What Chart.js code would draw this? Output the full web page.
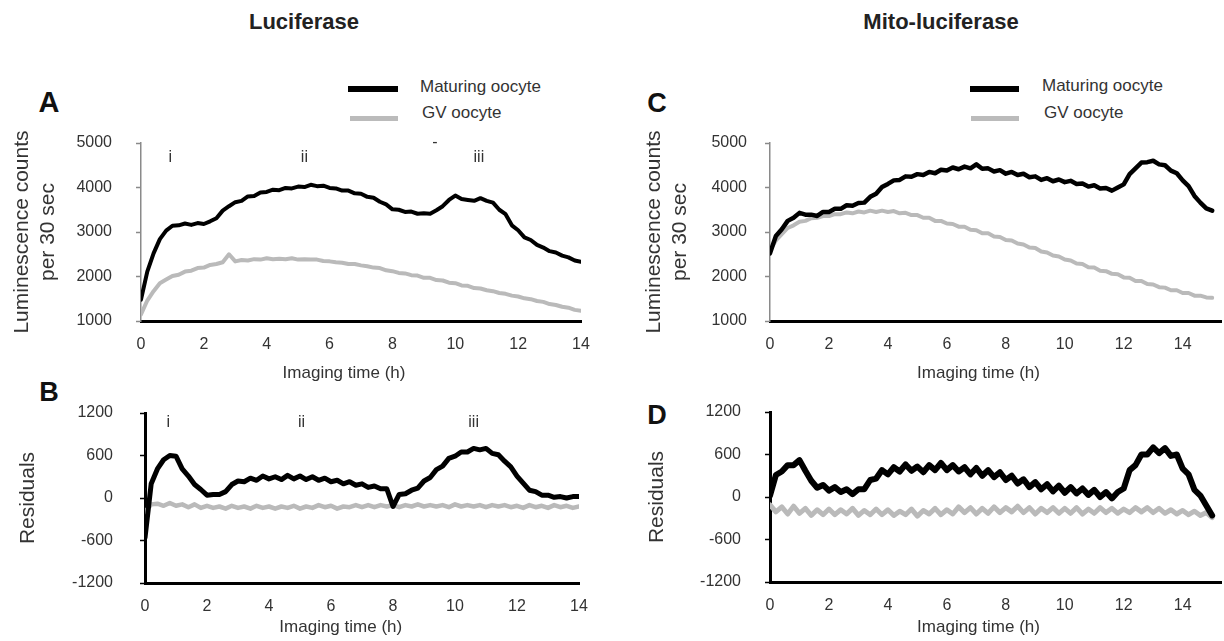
<!DOCTYPE html>
<html>
<head>
<meta charset="utf-8">
<script src="https://cdn.jsdelivr.net/npm/chart.js@4.4.1/dist/chart.umd.min.js"></script>
<style>
  body { margin: 0; width: 1224px; height: 641px; background: #fff; position: relative; overflow: hidden;
         font-family: "Liberation Sans", Arial, sans-serif; color: #2a2a2a; }
  .box { position: absolute; }
  .c { position: absolute; transform: translate(-50%, -50%); white-space: nowrap; }
  .l { position: absolute; transform: translateY(-50%); white-space: nowrap; font-size: 17px; color: #333; }
  .sw { position: absolute; }
  .head { font-weight: bold; font-size: 22px; color: #222; }
  .letter { font-weight: bold; font-size: 27px; color: #111; }
</style>
</head>
<body>

<div class="c head" style="left:304px;top:22px">Luciferase</div>
<div class="c head" style="left:941px;top:22px">Mito-luciferase</div>

<div class="c letter" style="left:49px;top:102px;font-size:29px">A</div>
<div class="c letter" style="left:49px;top:392px">B</div>
<div class="c letter" style="left:657px;top:103px">C</div>
<div class="c letter" style="left:657px;top:415px">D</div>

<!-- legends -->
<div class="sw" style="left:348px;top:86px;width:50px;height:6px;background:#000"></div>
<div class="sw" style="left:350px;top:116px;width:48px;height:5px;background:#bbb"></div>
<div class="l" style="left:420px;top:87px">Maturing oocyte</div>
<div class="l" style="left:422px;top:113px">GV oocyte</div>

<div class="sw" style="left:970px;top:86px;width:49px;height:6px;background:#000"></div>
<div class="sw" style="left:971px;top:116px;width:48px;height:5px;background:#bbb"></div>
<div class="l" style="left:1042px;top:86px">Maturing oocyte</div>
<div class="l" style="left:1044px;top:113px">GV oocyte</div>

<div class="box" style="left:0;top:100px;width:612px;height:290px"><canvas id="chartA"></canvas></div>
<div class="box" style="left:0;top:390px;width:612px;height:251px"><canvas id="chartB"></canvas></div>
<div class="box" style="left:612px;top:100px;width:612px;height:290px"><canvas id="chartC"></canvas></div>
<div class="box" style="left:612px;top:390px;width:612px;height:251px"><canvas id="chartD"></canvas></div>

<script>
// imaging time (h), sampled every 0.2 h
var timesA = [0,0.2,0.4,0.6,0.8,1,1.2,1.4,1.6,1.8,2,2.2,2.4,2.6,2.8,3,3.2,3.4,3.6,3.8,
  4,4.2,4.4,4.6,4.8,5,5.2,5.4,5.6,5.8,6,6.2,6.4,6.6,6.8,7,7.2,7.4,7.6,7.8,
  8,8.2,8.4,8.6,8.8,9,9.2,9.4,9.6,9.8,10,10.2,10.4,10.6,10.8,11,11.2,11.4,11.6,11.8,
  12,12.2,12.4,12.6,12.8,13,13.2,13.4,13.6,13.8,14];
var timesC = [0,0.2,0.4,0.6,0.8,1,1.2,1.4,1.6,1.8,2,2.2,2.4,2.6,2.8,3,3.2,3.4,3.6,3.8,
  4,4.2,4.4,4.6,4.8,5,5.2,5.4,5.6,5.8,6,6.2,6.4,6.6,6.8,7,7.2,7.4,7.6,7.8,
  8,8.2,8.4,8.6,8.8,9,9.2,9.4,9.6,9.8,10,10.2,10.4,10.6,10.8,11,11.2,11.4,11.6,11.8,
  12,12.2,12.4,12.6,12.8,13,13.2,13.4,13.6,13.8,14,14.2,14.4,14.6,14.8,15];

// A - luciferase counts per 30 sec
var maturingA = [1480,2110,2520,2840,3030,3140,3150,3190,3160,3200,
  3180,3240,3310,3480,3580,3670,3700,3800,3810,3890,
  3900,3950,3940,3990,3980,4020,4010,4060,4030,4040,
  3990,3980,3930,3930,3870,3860,3790,3770,3680,3620,
  3510,3500,3450,3460,3410,3420,3410,3490,3580,3720,
  3820,3740,3720,3700,3760,3700,3660,3500,3400,3150,
  3040,2880,2820,2710,2650,2570,2540,2470,2430,2360,2330];
var gvA = [1150,1460,1670,1850,1930,2010,2040,2110,2130,2190,
  2200,2260,2280,2320,2500,2340,2370,2360,2390,2380,
  2410,2390,2400,2390,2410,2380,2390,2380,2380,2350,
  2340,2320,2310,2280,2280,2250,2230,2200,2190,2140,
  2120,2080,2070,2030,2020,1970,1970,1920,1910,1860,
  1850,1800,1790,1740,1730,1690,1670,1630,1610,1570,
  1550,1510,1490,1450,1430,1380,1360,1320,1300,1250,1230];

// B - luciferase residuals
var maturingB = [-560,200,410,540,600,590,410,310,190,120,
  40,50,50,90,190,240,230,280,250,310,
  270,300,260,320,270,310,260,300,250,280,
  230,250,200,230,180,200,150,170,130,130,
  -120,50,60,110,140,240,290,400,450,560,
  590,650,650,700,680,700,630,610,520,440,
  310,210,110,90,40,40,10,20,0,20,20];
var gvB = [-200,-90,-80,-110,-70,-110,-90,-130,-90,-140,
  -110,-140,-120,-150,-110,-140,-120,-150,-110,-140,
  -120,-150,-120,-140,-110,-150,-120,-140,-100,-130,
  -110,-150,-120,-130,-100,-130,-100,-130,-100,-120,
  -100,-130,-100,-120,-90,-120,-100,-120,-100,-130,
  -90,-120,-100,-120,-100,-130,-100,-120,-100,-130,
  -110,-140,-100,-130,-110,-140,-100,-130,-110,-140,-120];

// C - mito-luciferase counts per 30 sec
var maturingC = [2520,2910,3060,3250,3320,3430,3390,3390,3360,3450,
  3450,3520,3520,3600,3590,3650,3660,3790,3860,4010,
  4080,4160,4170,4250,4240,4300,4280,4350,4320,4400,
  4380,4450,4410,4470,4430,4520,4420,4430,4360,4390,
  4310,4350,4280,4310,4230,4250,4170,4210,4140,4180,
  4120,4150,4080,4090,4020,4050,3980,3990,3930,4000,
  4070,4300,4430,4560,4570,4600,4520,4500,4380,4320,
  4160,4030,3810,3660,3530,3480];
var gvC = [2590,2810,2950,3090,3150,3230,3250,3310,3320,3360,
  3360,3400,3400,3440,3420,3460,3440,3480,3450,3480,
  3450,3470,3420,3430,3380,3380,3320,3320,3250,3250,
  3190,3180,3120,3120,3050,3040,2970,2970,2900,2890,
  2820,2810,2740,2720,2650,2640,2560,2540,2470,2450,
  2380,2360,2290,2280,2210,2200,2130,2120,2060,2050,
  1980,1970,1900,1900,1830,1820,1760,1750,1690,1690,
  1630,1630,1570,1570,1530,1520];

// D - mito-luciferase residuals
var maturingD = [20,310,360,450,450,520,370,230,130,170,
  90,140,70,110,40,110,110,240,260,380,
  320,420,360,460,370,430,350,450,380,480,
  380,450,360,420,320,410,300,380,280,350,
  240,300,190,250,140,210,110,180,80,160,
  60,140,50,120,30,100,0,70,-20,70,
  120,380,450,600,600,700,620,690,580,600,
  400,320,100,20,-120,-260];
var gvD = [-110,-210,-140,-240,-130,-230,-160,-260,-180,-250,
  -170,-250,-180,-240,-160,-260,-190,-250,-170,-250,
  -180,-260,-200,-250,-170,-270,-190,-240,-160,-250,
  -180,-240,-140,-220,-150,-240,-160,-230,-140,-220,
  -150,-210,-130,-220,-150,-240,-160,-220,-150,-230,
  -160,-230,-150,-240,-170,-230,-150,-220,-160,-230,
  -170,-220,-150,-210,-150,-220,-160,-230,-180,-240,
  -190,-250,-200,-260,-220,-290];

// phase marks i / ii / iii
var marksA = ['i', 'ii', 'iii', '-'];
var markTimesA = [0.93, 5.2, 10.75, 9.35];
var markLevelsA = [4680, 4680, 4680, 5020];
var marksB = ['i', 'ii', 'iii'];
var markTimesB = [0.75, 5.05, 10.6];
var markLevelsB = [1070, 1070, 1070];

var seriesNames = ['Maturing oocyte', 'GV oocyte'];

Chart.defaults.font.family = '"Liberation Sans", Arial, sans-serif';
Chart.defaults.color = '#333';

var marksPlugin = {
  id: 'marks',
  afterDatasetsDraw: function (chart, args, opts) {
    if (!opts.texts) return;
    var ctx = chart.ctx, x = chart.scales.x, y = chart.scales.y;
    ctx.save();
    ctx.font = '16px "Liberation Sans", Arial, sans-serif';
    ctx.fillStyle = '#333';
    ctx.textAlign = 'center';
    ctx.textBaseline = 'middle';
    for (var i = 0; i < opts.texts.length; i++) {
      ctx.fillText(opts.texts[i], x.getPixelForValue(opts.times[i]), y.getPixelForValue(opts.levels[i]));
    }
    ctx.restore();
  }
};

function plain(v) { return String(v); }

function panel(id, p) {
  return new Chart(document.getElementById(id), {
    type: 'line',
    data: {
      labels: p.times,
      datasets: [{
        label: seriesNames[0],
        data: p.mat,
        borderColor: '#000',
        borderWidth: p.matWidth
      }, {
        label: seriesNames[1],
        data: p.gv,
        borderColor: '#bababa',
        borderWidth: p.gvWidth
      }]
    },
    options: {
      animation: false,
      responsive: true,
      maintainAspectRatio: false,
      events: [],
      layout: { padding: { left: 0, top: p.top, right: p.right, bottom: 0 } },
      elements: { point: { radius: 0 }, line: { tension: 0, borderJoinStyle: 'round', borderCapStyle: 'round' } },
      plugins: {
        legend: { display: false },
        tooltip: { enabled: false },
        marks: { texts: p.marks, times: p.markTimes, levels: p.markLevels }
      },
      scales: {
        x: {
          type: 'linear',
          min: 0,
          max: p.xMax,
          afterFit: function (s) { s.height = p.xHeight; },
          afterBuildTicks: function (s) { s.ticks = s.ticks.filter(function (t) { return t.value % 2 === 0; }); },
          ticks: { stepSize: 2, includeBounds: false, padding: 6, maxRotation: 0, font: { size: 16 }, color: '#333', callback: plain },
          grid: { display: false },
          border: { display: true, color: '#000', width: 3 },
          title: {
            display: true,
            text: 'Imaging time (h)' + p.xShift,
            font: { size: 17 },
            color: '#333',
            padding: { top: 0, bottom: p.xTitlePad }
          }
        },
        y: {
          min: p.yMin,
          max: p.yMax,
          afterFit: function (s) { s.width = p.yWidth; },
          // tick line runs from the label side to the axis: blank gap, then a short mark at the axis
          ticks: { stepSize: p.yStep, padding: 0, font: { size: 16 }, color: '#333', callback: plain },
          grid: { drawOnChartArea: false, drawTicks: true, tickLength: p.tickGap,
                  tickBorderDash: [0, p.tickGap - 5, 5, 40],
                  color: p.yColor, tickColor: p.yColor, tickWidth: 1.5 },
          border: { display: true, color: p.yColor, width: p.yBorder },
          title: {
            display: true,
            text: p.yTitle,
            font: { size: 21 },
            color: '#333',
            padding: { top: p.yTitlePad, bottom: 0 }
          }
        }
      }
    },
    plugins: [marksPlugin]
  });
}

panel('chartA', {
  times: timesA, mat: maturingA, gv: gvA, xMax: 14, matWidth: 4, gvWidth: 4,
  top: 43, right: 31, xHeight: 69, yWidth: 141, xTitlePad: 6, xShift: '\u2002\u2002\u2002\u2002',
  yMin: 1000, yMax: 5000, yStep: 1000, tickGap: 29, yColor: '#8a8a8a', yBorder: 1.5,
  yTitle: ['Luminescence counts', 'per 30 sec'], yTitlePad: 10,
  marks: marksA, markTimes: markTimesA, markLevels: markLevelsA
});
panel('chartB', {
  times: timesA, mat: maturingB, gv: gvB, xMax: 14, matWidth: 5, gvWidth: 4.5,
  top: 23, right: 33, xHeight: 58, yWidth: 145, xTitlePad: 3, xShift: '\u2002\u2002\u2002\u2002\u2002',
  yMin: -1200, yMax: 1200, yStep: 600, tickGap: 32, yColor: '#000', yBorder: 3,
  yTitle: 'Residuals', yTitlePad: 16,
  marks: marksB, markTimes: markTimesB, markLevels: markLevelsB
});
panel('chartC', {
  times: timesC, mat: maturingC, gv: gvC, xMax: 15.3, matWidth: 4.5, gvWidth: 4,
  top: 43, right: 3, xHeight: 69, yWidth: 158, xTitlePad: 6, xShift: '\u2002\u2002\u2002\u2002',
  yMin: 1000, yMax: 5000, yStep: 1000, tickGap: 23, yColor: '#8a8a8a', yBorder: 1.5,
  yTitle: ['Luminescence counts', 'per 30 sec'], yTitlePad: 30
});
panel('chartD', {
  times: timesC, mat: maturingD, gv: gvD, xMax: 15.3, matWidth: 6, gvWidth: 5,
  top: 22, right: 3, xHeight: 59, yWidth: 158, xTitlePad: 3, xShift: '\u2002\u2002\u2002\u2002',
  yMin: -1200, yMax: 1200, yStep: 600, tickGap: 29, yColor: '#000', yBorder: 3,
  yTitle: 'Residuals', yTitlePad: 33
});
</script>
</body>
</html>
